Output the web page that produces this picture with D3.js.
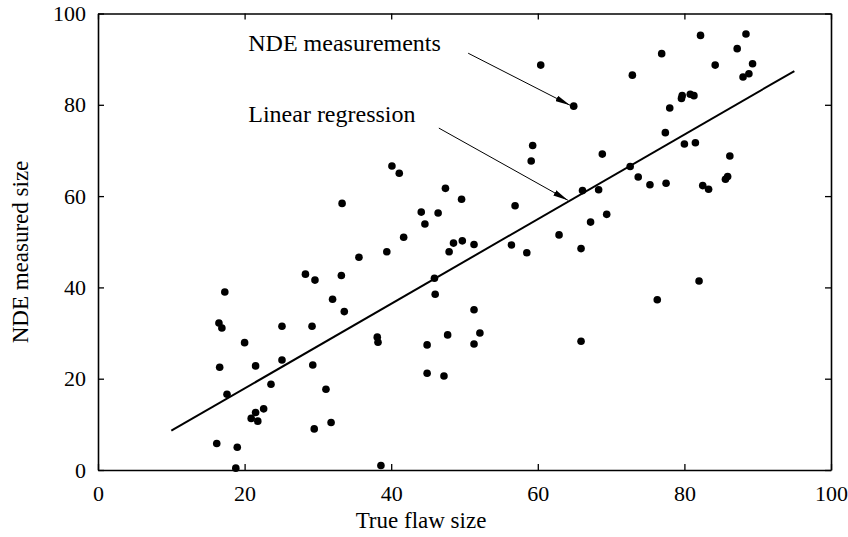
<!DOCTYPE html>
<html>
<head>
<meta charset="utf-8">
<script src="https://cdn.jsdelivr.net/npm/d3@7"></script>
<style>
  html, body { margin: 0; padding: 0; background: #fff; }
  svg { display: block; }
</style>
</head>
<body>
<div class="scatter-chart"></div>
<script>
// true flaw size vs NDE measured size
var trueSize = [
	16.2, 19.0, 18.8, 38.6, 16.5, 16.9, 17.3, 16.6, 17.6, 20.0,
	21.5, 20.9, 21.5, 21.8, 22.6, 23.6, 25.1, 25.1, 28.3, 29.6,
	29.2, 29.3, 29.5, 31.1, 31.8, 32.0, 33.2, 33.6, 33.3, 35.6,
	38.1, 38.2, 39.4, 40.1, 41.1, 41.7, 44.1, 44.6, 44.9, 44.9,
	45.9, 46.0, 46.4, 47.2, 47.4, 47.7, 47.9, 48.5, 49.6, 49.7,
	51.3, 51.3, 51.3, 52.1, 56.4, 56.9, 58.5, 59.1, 59.3, 60.4,
	62.9, 64.9, 65.9, 65.9, 66.1, 67.2, 68.3, 68.8, 69.4, 72.6,
	72.9, 73.7, 75.3, 76.3, 76.9, 77.4, 77.5, 78.0, 79.6, 79.7,
	80.0, 80.8, 81.3, 81.5, 82.0, 82.2, 82.5, 83.3, 84.2, 85.6,
	85.9, 86.2, 87.2, 88.0, 88.4, 88.8, 89.3
];
var measuredSize = [
	5.8, 5.0, 0.4, 1.0, 32.2, 31.1, 39.0, 22.5, 16.6, 27.9,
	22.8, 11.3, 12.6, 10.7, 13.4, 18.8, 24.1, 31.5, 42.9, 41.6,
	31.5, 23.0, 9.0, 17.7, 10.4, 37.4, 42.6, 34.7, 58.4, 46.6,
	29.1, 28.0, 47.8, 66.6, 65.0, 51.0, 56.5, 53.9, 27.4, 21.2,
	42.0, 38.5, 56.3, 20.6, 61.7, 29.6, 47.8, 49.7, 59.3, 50.2,
	49.4, 35.1, 27.6, 30.0, 49.3, 57.9, 47.6, 67.7, 71.1, 88.7,
	51.5, 79.7, 48.5, 28.2, 61.2, 54.3, 61.4, 69.2, 56.0, 66.5,
	86.5, 64.2, 62.5, 37.3, 91.2, 73.9, 62.8, 79.3, 81.4, 82.0,
	71.4, 82.3, 82.0, 71.7, 41.4, 95.2, 62.3, 61.5, 88.7, 63.7,
	64.3, 68.8, 92.3, 86.1, 95.5, 86.8, 89.0
];
var regressionX = [10, 95];
var regressionY = [8.6, 87.4];
var tickValues = [0, 20, 40, 60, 80, 100];
var labelNames = ['NDE measurements', 'Linear regression'];
var labelAt = [[20.5, 91.7], [20.5, 76.2]];
var arrowFrom = [[50.5, 91.3], [46.5, 74.9]];
var arrowTo = [[64.4, 79.9], [64.1, 59.1]];

(function() {
	var fontFamily = '"Liberation Serif", "DejaVu Serif", serif',
		ink = '#000',
		tickFontSize = '22px',
		titleFontSize = '23px',
		noteFontSize = '24px';
	var margin = {top: 13.5, left: 98, bottom: 67, right: 17};
	var width = 848 - margin.left - margin.right;
	var height = 537 - margin.top - margin.bottom;
	var x = d3.scaleLinear().domain([0, 100]).range([0, width]);
	var y = d3.scaleLinear().domain([0, 100]).range([height, 0]);

	var root = d3.select('.scatter-chart').append('svg')
		.attr('width', 848)
		.attr('height', 537)
		.attr('font-family', fontFamily)
		.attr('fill', ink);

	root.append('defs').append('marker')
		.attr('id', 'arrowhead')
		.attr('viewBox', '0 0 15 6')
		.attr('refX', 15)
		.attr('refY', 3)
		.attr('markerWidth', 15)
		.attr('markerHeight', 6)
		.attr('markerUnits', 'userSpaceOnUse')
		.attr('orient', 'auto')
	.append('path')
		.attr('d', 'M0,0 L15,3 L0,6 Z')
		.attr('fill', ink);

	var svg = root.append('g')
		.attr('transform', 'translate(' + margin.left + ',' + margin.top + ')');

	// frame with inward ticks on all four sides
	svg.append('g')
		.attr('transform', 'translate(0,' + height + ')')
		.call(d3.axisBottom(x).tickValues(tickValues).tickSizeInner(-6).tickSizeOuter(0).tickPadding(15));
	svg.append('g')
		.call(d3.axisTop(x).tickValues(tickValues).tickSizeInner(-6).tickSizeOuter(0).tickFormat(''));
	svg.append('g')
		.call(d3.axisLeft(y).tickValues(tickValues).tickSizeInner(-6).tickSizeOuter(0).tickPadding(12));
	svg.append('g')
		.attr('transform', 'translate(' + width + ',0)')
		.call(d3.axisRight(y).tickValues(tickValues).tickSizeInner(-6).tickSizeOuter(0).tickFormat(''));
	svg.selectAll('.domain').attr('stroke-width', 1.6);
	svg.selectAll('.tick line').attr('stroke-width', 1.3);
	svg.selectAll('.tick text')
		.attr('font-family', fontFamily)
		.attr('font-size', tickFontSize)
		.attr('fill', ink);

	// regression line
	svg.append('line')
		.attr('x1', x(regressionX[0]))
		.attr('y1', y(regressionY[0]))
		.attr('x2', x(regressionX[1]))
		.attr('y2', y(regressionY[1]))
		.attr('stroke', ink)
		.attr('stroke-width', 2);

	// measurements
	svg.selectAll('circle.pt')
		.data(trueSize)
		.enter().append('circle')
		.attr('class', 'pt')
		.attr('cx', function(d) { return x(d); })
		.attr('cy', function(d, i) { return y(measuredSize[i]); })
		.attr('r', 3.8)
		.attr('fill', ink);

	// annotations
	labelNames.forEach(function(name, i) {
		svg.append('text')
			.attr('x', x(labelAt[i][0]))
			.attr('y', y(labelAt[i][1]))
			.attr('font-size', noteFontSize)
			.text(name);
		svg.append('line')
			.attr('x1', x(arrowFrom[i][0]))
			.attr('y1', y(arrowFrom[i][1]))
			.attr('x2', x(arrowTo[i][0]))
			.attr('y2', y(arrowTo[i][1]))
			.attr('stroke', ink)
			.attr('stroke-width', 1)
			.attr('marker-end', 'url(#arrowhead)');
	});

	// axis titles
	svg.append('text')
		.attr('x', 421 - margin.left)
		.attr('y', height + 58)
		.attr('text-anchor', 'middle')
		.attr('font-size', titleFontSize)
		.text('True flaw size');
	svg.append('text')
		.attr('transform', 'translate(' + (-70) + ',' + (252 - margin.top) + ') rotate(-90)')
		.attr('text-anchor', 'middle')
		.attr('font-size', titleFontSize)
		.text('NDE measured size');
})();
</script>
</body>
</html>
